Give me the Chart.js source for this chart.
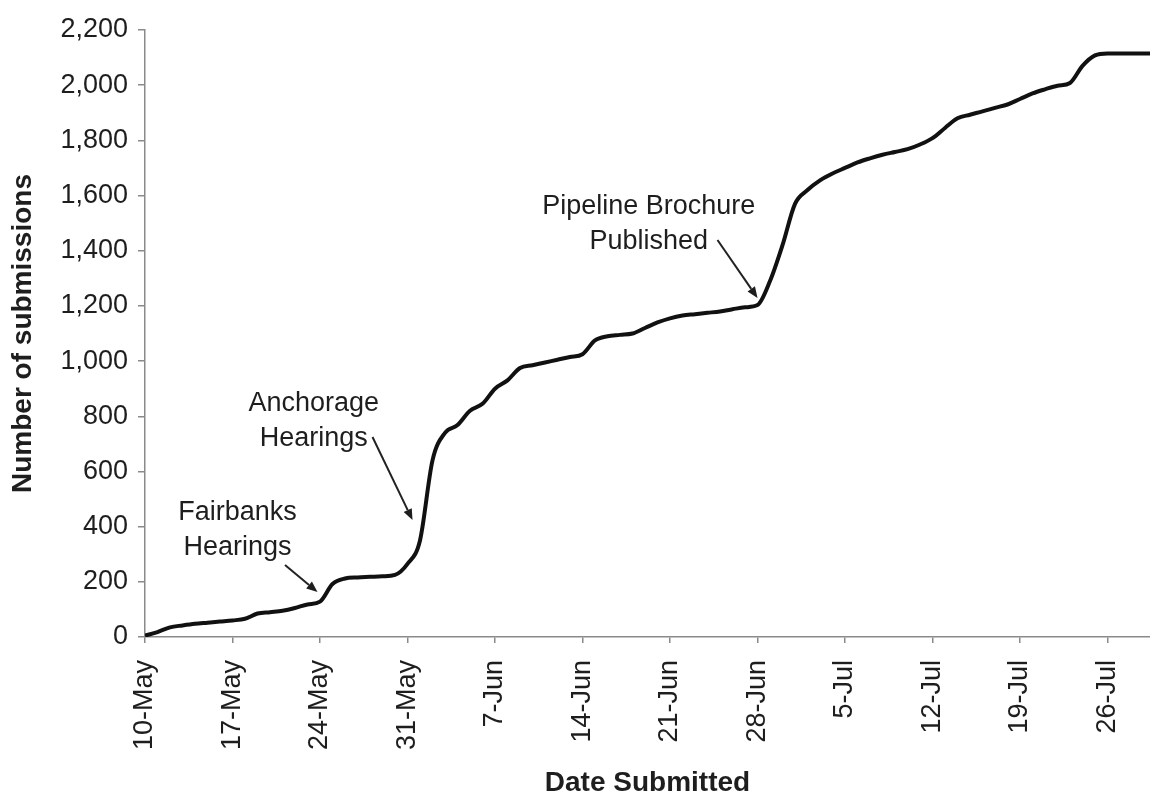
<!DOCTYPE html>
<html>
<head>
<meta charset="utf-8">
<script src="https://cdn.jsdelivr.net/npm/chart.js@4/dist/chart.umd.min.js"></script>
<style>
html,body{margin:0;padding:0;background:#fff;}
#wrap{width:1150px;height:797px;position:relative;}
</style>
</head>
<body>
<div id="wrap"><canvas id="c" width="1150" height="797"></canvas></div>
<script>
// Days since 10-May and cumulative submissions
const days = [0,1,2,3,4,5,6,7,8,9,10,11,12,13,14,15,16,17,18,19,20,21,22,23,24,25,26,27,28,29,30,31,32,33,34,35,36,37,38,39,40,41,42,43,44,45,46,47,48,49,50,51,52,53,54,55,56,57,58,59,60,61,62,63,64,65,66,67,68,69,70,71,72,73,74,75,76,77,78,79,80,81];
const submissions = [5,18,35,42,48,52,56,60,66,85,90,95,105,118,128,192,212,216,218,220,225,265,350,640,740,768,820,845,900,930,975,985,995,1005,1015,1025,1075,1090,1095,1100,1120,1140,1155,1165,1170,1175,1180,1188,1195,1203,1290,1420,1570,1620,1655,1680,1700,1720,1735,1748,1758,1768,1785,1808,1845,1880,1893,1905,1918,1930,1950,1970,1985,1998,2008,2070,2108,2115,2115,2115,2115,2115];
const tickDays = [0,7,14,21,28,35,42,49,56,63,70,77];
const tickLabels = ["10-May","17-May","24-May","31-May","7-Jun","14-Jun","21-Jun","28-Jun","5-Jul","12-Jul","19-Jul","26-Jul"];
const yTicks = [0,200,400,600,800,1000,1200,1400,1600,1800,2000,2200];

// Annotations (data coordinates)
const noteLines = [["Fairbanks","Hearings"],["Anchorage","Hearings"],["Pipeline Brochure","Published"]];
const noteAt = [[7.4,457],[13.5,852],[40.3,1566]];
const arrowFrom = [[11.2,261],[18.2,725],[45.8,1439]];
const arrowTo = [[13.8,163],[21.4,424],[49.0,1229]];

const txt = '#1e1e1e';
const axisCol = '#8a8a8a';
const font = "'Liberation Sans', Arial, sans-serif";

const notesPlugin = {
  id: 'notes',
  afterDatasetsDraw(chart) {
    const {ctx, scales:{x, y}} = chart;
    ctx.save();
    ctx.fillStyle = txt;
    ctx.font = "27px " + font;
    ctx.textAlign = 'center';
    ctx.textBaseline = 'middle';
    noteLines.forEach((lines, i) => {
      const cx = x.getPixelForValue(noteAt[i][0]);
      const cy = y.getPixelForValue(noteAt[i][1]);
      lines.forEach((t, j) => ctx.fillText(t, cx, cy + 2 + j * 35));
      const x1 = x.getPixelForValue(arrowFrom[i][0]), y1 = y.getPixelForValue(arrowFrom[i][1]);
      const x2 = x.getPixelForValue(arrowTo[i][0]), y2 = y.getPixelForValue(arrowTo[i][1]);
      const ang = Math.atan2(y2 - y1, x2 - x1);
      const hl = 11, hw = 4.5;
      const bx = x2 - hl * Math.cos(ang), by = y2 - hl * Math.sin(ang);
      ctx.strokeStyle = '#222';
      ctx.lineWidth = 2;
      ctx.beginPath();
      ctx.moveTo(x1, y1);
      ctx.lineTo(bx, by);
      ctx.stroke();
      ctx.beginPath();
      ctx.moveTo(x2, y2);
      ctx.lineTo(bx + hw * Math.sin(ang), by - hw * Math.cos(ang));
      ctx.lineTo(bx - hw * Math.sin(ang), by + hw * Math.cos(ang));
      ctx.closePath();
      ctx.fill();
    });
    ctx.restore();
  }
};

new Chart(document.getElementById('c'), {
  type: 'line',
  data: {
    datasets: [{
      data: days.map((d, i) => ({x: d, y: submissions[i]})),
      borderColor: '#111',
      borderWidth: 4,
      pointRadius: 0,
      fill: false,
      cubicInterpolationMode: 'monotone'
    }]
  },
  options: {
    responsive: false,
    animation: false,
    devicePixelRatio: 1,
    layout: {padding: {top: 30, right: 0, left: 0, bottom: 0}},
    plugins: {legend: {display: false}, tooltip: {enabled: false}},
    scales: {
      x: {
        type: 'linear',
        min: 0,
        max: 80.4,
        afterBuildTicks: s => { s.ticks = tickDays.map(v => ({value: v})); },
        afterFit: s => { s.height = 160; s.paddingRight = 0; s.paddingLeft = 0; },
        grid: {display: true, drawOnChartArea: false, drawTicks: true, tickLength: 6, color: axisCol, lineWidth: 1.5},
        border: {display: true, color: axisCol, width: 1.5},
        ticks: {
          autoSkip: false,
          minRotation: 90,
          maxRotation: 90,
          padding: 17,
          color: txt,
          font: {family: font, size: 27},
          callback: v => tickLabels[tickDays.indexOf(v)]
        },
        title: {display: true, text: 'Date Submitted', color: txt,
          font: {family: font, size: 28, weight: 'bold', lineHeight: 1.0}, padding: {top: 0, bottom: 0}}
      },
      y: {
        min: 0,
        max: 2200,
        afterBuildTicks: s => { s.ticks = yTicks.map(v => ({value: v})); },
        afterFit: s => { s.width = 145; },
        grid: {display: true, drawOnChartArea: false, drawTicks: true, tickLength: 7, color: axisCol, lineWidth: 1.5},
        border: {display: true, color: axisCol, width: 1.5},
        ticks: {
          padding: 10,
          color: txt,
          font: {family: font, size: 27},
          callback: v => v.toLocaleString('en-US')
        },
        title: {display: true, text: 'Number of submissions', color: txt,
          font: {family: font, size: 28, weight: 'bold', lineHeight: 1.2}, padding: {top: 6, bottom: 0}}
      }
    }
  },
  plugins: [notesPlugin]
});
</script>
</body>
</html>
